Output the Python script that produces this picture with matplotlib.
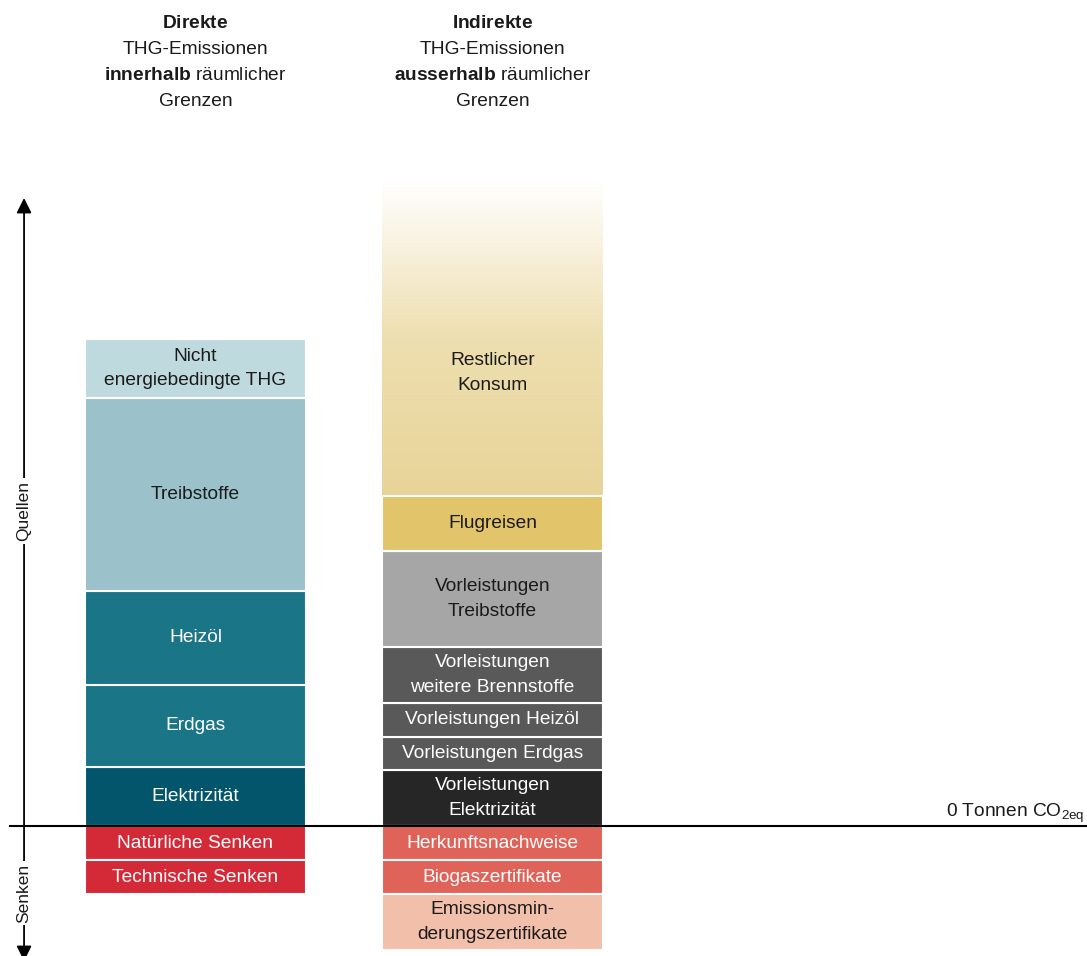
"""
Stacked source / sink diagram for direct and indirect GHG emissions
(Quellen above the zero line, Senken below it).
"""
import matplotlib.pyplot as plt
import numpy as np
from matplotlib.colors import LinearSegmentedColormap

plt.rcParams['font.family'] = ['Liberation Sans', 'DejaVu Sans']
plt.rcParams['mathtext.fontset'] = 'custom'
plt.rcParams['mathtext.rm'] = 'Liberation Sans'
plt.rcParams['mathtext.bf'] = 'Liberation Sans:bold'

# ── Data (arbitrary units, stacked outward from zero) ─────────────────────────

DIRECT_LABELS = ['Elektrizität', 'Erdgas', 'Heizöl', 'Treibstoffe',
                 'Nicht\nenergiebedingte THG']
DIRECT_VALUES = [5.9, 8.2, 9.4, 19.3, 5.9]

INDIRECT_LABELS = ['Vorleistungen\nElektrizität', 'Vorleistungen Erdgas',
                   'Vorleistungen Heizöl', 'Vorleistungen\nweitere Brennstoffe',
                   'Vorleistungen\nTreibstoffe', 'Flugreisen',
                   'Restlicher\nKonsum']
INDIRECT_VALUES = [5.6, 3.3, 3.4, 5.6, 9.6, 5.5, 31.6]

DIRECT_SINK_LABELS = ['Natürliche Senken', 'Technische Senken']
DIRECT_SINK_VALUES = [-3.4, -3.4]

INDIRECT_SINK_LABELS = ['Herkunftsnachweise', 'Biogaszertifikate',
                        'Emissionsmin-\nderungszertifikate']
INDIRECT_SINK_VALUES = [-3.4, -3.4, -5.6]

HEADERS = ['$\\mathbf{Direkte}$\nTHG-Emissionen\n$\\mathbf{innerhalb}$ räumlicher\nGrenzen',
           '$\\mathbf{Indirekte}$\nTHG-Emissionen\n$\\mathbf{ausserhalb}$ räumlicher\nGrenzen']

# ── Styles ────────────────────────────────────────────────────────────────────

DARK_TXT = '#1a1a1a'

DIRECT_COLOURS = ['#03556b', '#1a7587', '#1a7587', '#9bc1ca', '#bfdadf']
DIRECT_TXT     = ['white', 'white', 'white', DARK_TXT, DARK_TXT]

INDIRECT_COLOURS = ['#262626', '#595959', '#595959', '#595959',
                    '#a6a6a6', '#e2c46b', None]   # None → gradient
INDIRECT_TXT     = ['white', 'white', 'white', 'white',
                    DARK_TXT, DARK_TXT, DARK_TXT]

DIRECT_SINK_COLOURS   = ['#d42a38', '#d42a38']
DIRECT_SINK_TXT       = ['white', 'white']
INDIRECT_SINK_COLOURS = ['#e06359', '#e06359', '#f2bfaa']
INDIRECT_SINK_TXT     = ['white', 'white', DARK_TXT]

BAR_W = 0.744
FS = 13.8
LSP = 1.6


def draw_stack(ax, x, labels, values, colours, txt_colours):
    """Stack the segments from zero outward, label each one in its centre."""
    bottom = 0.0
    for lab, val, col, tc in zip(labels, values, colours, txt_colours):
        if col is None:
            # fading segment (top of the indirect column)
            bar = ax.bar(x, val, bottom=bottom, width=BAR_W, facecolor='none',
                         edgecolor='white', linewidth=1.5)[0]
            cmap = LinearSegmentedColormap.from_list(
                'fade', ['#e8d498', '#eedfb0', '#ffffff'])
            grad = np.linspace(0, 1, 256)[:, None]
            im = ax.imshow(grad, cmap=cmap, aspect='auto', origin='lower',
                           extent=[x - BAR_W / 2, x + BAR_W / 2, bottom, bottom + val],
                           zorder=1)
            im.set_clip_path(bar)
            ty = bottom + 0.39 * val
        else:
            ax.bar(x, val, bottom=bottom, width=BAR_W, color=col,
                   edgecolor='white', linewidth=1.5, zorder=2)
            ty = bottom + val / 2
        ax.text(x, ty, lab, ha='center', va='center', color=tc,
                fontsize=FS, linespacing=LSP, zorder=3)
        bottom += val


def main():
    fig = plt.figure(figsize=(10.87, 9.56), dpi=100)
    ax = fig.add_axes([0, 0, 1, 1])
    ax.set_xlim(-0.658, 3.002)
    ax.set_ylim(-13.0, 82.6)
    ax.axis('off')

    draw_stack(ax, 0, DIRECT_LABELS, DIRECT_VALUES, DIRECT_COLOURS, DIRECT_TXT)
    draw_stack(ax, 1, INDIRECT_LABELS, INDIRECT_VALUES, INDIRECT_COLOURS, INDIRECT_TXT)
    draw_stack(ax, 0, DIRECT_SINK_LABELS, DIRECT_SINK_VALUES,
               DIRECT_SINK_COLOURS, DIRECT_SINK_TXT)
    draw_stack(ax, 1, INDIRECT_SINK_LABELS, INDIRECT_SINK_VALUES,
               INDIRECT_SINK_COLOURS, INDIRECT_SINK_TXT)

    # zero line
    ax.axhline(0, xmin=0.009, xmax=1, color='black', lw=1.5, zorder=4)
    ax.text(2.995, 0.1, '0 Tonnen CO$_{\\mathrm{2eq}}$', ha='right', va='bottom',
            fontsize=FS, color=DARK_TXT)

    # column headers
    for x, h in zip([0, 1], HEADERS):
        ax.text(x, 76.35, h, ha='center', va='center', fontsize=FS,
                linespacing=1.7, color=DARK_TXT)

    # vertical source/sink arrow
    ax_x = -0.577
    ax.annotate('', xy=(ax_x, 62.8), xytext=(ax_x, -13.5),
                arrowprops=dict(arrowstyle='<|-|>,head_length=0.6,head_width=0.3',
                                mutation_scale=15, color='black', lw=1.3,
                                shrinkA=0, shrinkB=0))
    for y, lab in [(31.5, 'Quellen'), (-6.7, 'Senken')]:
        ax.text(ax_x, y, lab, rotation=90, ha='center', va='center',
                fontsize=12.5, color=DARK_TXT,
                bbox=dict(boxstyle='square,pad=0.15', facecolor='white',
                          edgecolor='none'))

    fig.savefig('out.png', dpi=100)


if __name__ == '__main__':
    main()
